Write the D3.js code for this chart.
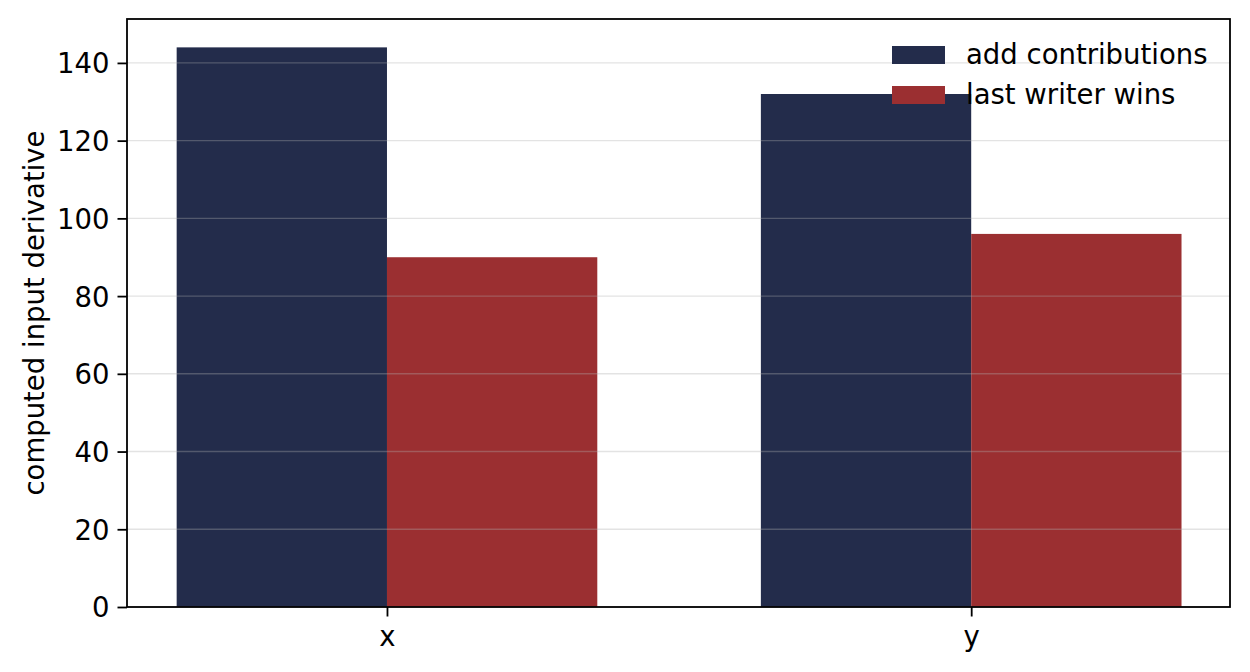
<!DOCTYPE html>
<html><head><meta charset="utf-8">
<script src="https://cdn.jsdelivr.net/npm/d3@7"></script>
<style>body{margin:0;background:#fff;} svg{display:block;}</style>
</head><body>
<svg id="c" width="1250" height="672"></svg>
<script>
const categories = ["x", "y"];
const seriesNames = ["add contributions", "last writer wins"];
const addContributions = [144, 132];
const lastWriterWins = [90, 96];
const yTicks = [0, 20, 40, 60, 80, 100, 120, 140];
const colors = ["#232c4b", "#9b2f31"];

const svg = d3.select("#c");
const L = 127, R = 1230, T = 19, B = 607;
const font = "DejaVu Sans, sans-serif";
const fs = 27.5;
const barW = 0.36;
const x = d3.scaleLinear().domain([-0.445, 1.443]).range([L, R]);
const y = d3.scaleLinear().domain([0, 151.3]).range([B, T]);
const series = [addContributions, lastWriterWins];

// bars
series.forEach((vals, si) => {
  svg.append("g").selectAll("rect").data(vals).join("rect")
    .attr("x", (d, i) => x(i + (si === 0 ? -barW : 0)))
    .attr("width", (d, i) => x(i + barW) - x(i))
    .attr("y", d => y(d))
    .attr("height", d => y(0) - y(d))
    .attr("fill", colors[si]);
});

// grid above bars
svg.append("g").selectAll("line").data(yTicks).join("line")
  .attr("x1", L).attr("x2", R)
  .attr("y1", d => y(d)).attr("y2", d => y(d))
  .attr("stroke", "#b0b0b0").attr("stroke-opacity", 0.35).attr("stroke-width", 1.4);

// axes
const yAxis = svg.append("g").attr("transform", `translate(${L},0)`)
  .call(d3.axisLeft(y).tickValues(yTicks).tickSize(9.5).tickPadding(8));
const xAxis = svg.append("g").attr("transform", `translate(0,${B})`)
  .call(d3.axisBottom(x).tickValues([0, 1]).tickFormat(i => categories[i]).tickSize(9.5).tickPadding(8));
[yAxis, xAxis].forEach(g => {
  g.select(".domain").remove();
  g.selectAll("text").attr("font-family", font).attr("font-size", fs).attr("fill", "#000");
  g.selectAll("line").attr("stroke", "#000").attr("stroke-width", 1.8);
});
yAxis.selectAll("text").attr("y", 0).attr("dy", "0.36em");
xAxis.selectAll("text").attr("dy", null).attr("y", 39);

// frame
svg.append("rect").attr("x", L).attr("y", T).attr("width", R - L).attr("height", B - T)
  .attr("fill", "none").attr("stroke", "#000").attr("stroke-width", 1.8);

// y label
svg.append("text").attr("transform", `translate(44,${(T + B) / 2}) rotate(-90)`)
  .attr("text-anchor", "middle").attr("font-family", font).attr("font-size", fs)
  .text("computed input derivative");

// legend
const lg = svg.append("g");
seriesNames.forEach((n, i) => {
  lg.append("rect").attr("x", 892).attr("y", 46 + i * 40).attr("width", 53).attr("height", 18).attr("fill", colors[i]);
  lg.append("text").attr("x", 966).attr("y", 64 + i * 40)
    .attr("font-family", font).attr("font-size", fs).text(n);
});
</script>
</body></html>
